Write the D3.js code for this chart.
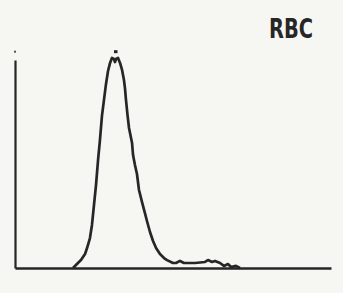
<!DOCTYPE html>
<html>
<head>
<meta charset="utf-8">
<script src="https://cdn.jsdelivr.net/npm/d3@7"></script>
<style>
  html, body { margin: 0; padding: 0; background: #f6f6f3; }
  svg { display: block; }
</style>
</head>
<body>
<div id="chart"></div>
<script>
// RBC volume histogram (fL vs relative count)
const title = "RBC";
const volumeFL = [45.9, 49.8, 52.2, 55.4, 57.0, 59.3, 60.9, 62.5, 64.1, 65.7, 67.2, 68.8, 70.4, 72.0, 73.6, 75.2, 76.7, 78.3, 79.1, 79.9, 81.5, 83.1, 84.7, 86.2, 87.0, 87.8, 89.0, 90.2, 92.6, 93.4, 94.9, 96.5, 98.1, 100.5, 102.8, 104.4, 106.8, 109.2, 111.6, 114.7, 117.9, 120.3, 125.0, 127.4, 130.5, 133.7, 142.4, 150.3, 152.7, 155.9, 158.2, 162.2, 165.3, 168.5, 170.9, 174.8, 178.0];
const relCount = [0, 2.4, 3.8, 6.7, 9.6, 14.4, 20.7, 30.3, 39.9, 51.9, 61.5, 73.1, 80.8, 88.5, 94.7, 98.6, 101.0, 100.5, 99.0, 100.5, 101.0, 98.6, 95.2, 90.4, 86.5, 80.8, 73.6, 67.3, 60.1, 54.3, 49.5, 45.2, 37.5, 31.7, 26.4, 22.6, 17.3, 13.0, 9.6, 6.7, 4.8, 3.8, 2.4, 2.4, 3.4, 2.4, 2.4, 2.9, 3.8, 2.9, 3.4, 2.4, 1.0, 1.9, 0.5, 1.0, 0];
const xDomain = [0, 250];
const yDomain = [0, 100];
const peakMarker = { fl: 79.5, level: 104 };
const axisMarker = { fl: 0, level: 104 };

const W = 343, H = 293;
const svg = d3.select("#chart").append("svg").attr("width", W).attr("height", H);

const x = d3.scaleLinear().domain(xDomain).range([15, 331]);
const y = d3.scaleLinear().domain(yDomain).range([268, 60]);

const ink = "#262626";

// x axis (baseline)
const xAxis = svg.append("g").attr("transform", `translate(0,${y(0)})`)
  .call(d3.axisBottom(x).tickValues([]).tickSizeOuter(0));
xAxis.select(".domain").attr("stroke", ink).attr("stroke-width", 2.5);

// y axis
const yAxis = svg.append("g").attr("transform", `translate(${x(0)},0)`)
  .call(d3.axisLeft(y).tickValues([]).tickSizeOuter(0));
yAxis.select(".domain").attr("stroke", ink).attr("stroke-width", 2.2);

// histogram curve
const pts = volumeFL.map((v, i) => [v, relCount[i]]);
svg.append("path")
  .datum(pts)
  .attr("fill", "none")
  .attr("stroke", ink)
  .attr("stroke-width", 2.7)
  .attr("stroke-linejoin", "round")
  .attr("d", d3.line().x(d => x(d[0])).y(d => y(d[1])).curve(d3.curveLinear));

// markers
svg.append("rect")
  .attr("x", x(peakMarker.fl) - 1.5).attr("y", y(peakMarker.level) - 1.5)
  .attr("width", 3.5).attr("height", 3)
  .attr("fill", ink);
svg.append("rect")
  .attr("x", x(axisMarker.fl) - 1).attr("y", y(axisMarker.level) - 1)
  .attr("width", 2).attr("height", 2)
  .attr("fill", "#555");

// title
svg.append("text")
  .attr("x", 269).attr("y", 38)
  .attr("text-anchor", "start")
  .attr("font-family", "'DejaVu Sans Condensed', 'Liberation Sans Narrow', sans-serif")
  .attr("font-stretch", "condensed")
  .attr("font-weight", "bold")
  .attr("font-size", 26.5)
  .attr("textLength", 44)
  .attr("lengthAdjust", "spacingAndGlyphs")
  .attr("fill", "#262626")
  .text(title);
</script>
</body>
</html>
